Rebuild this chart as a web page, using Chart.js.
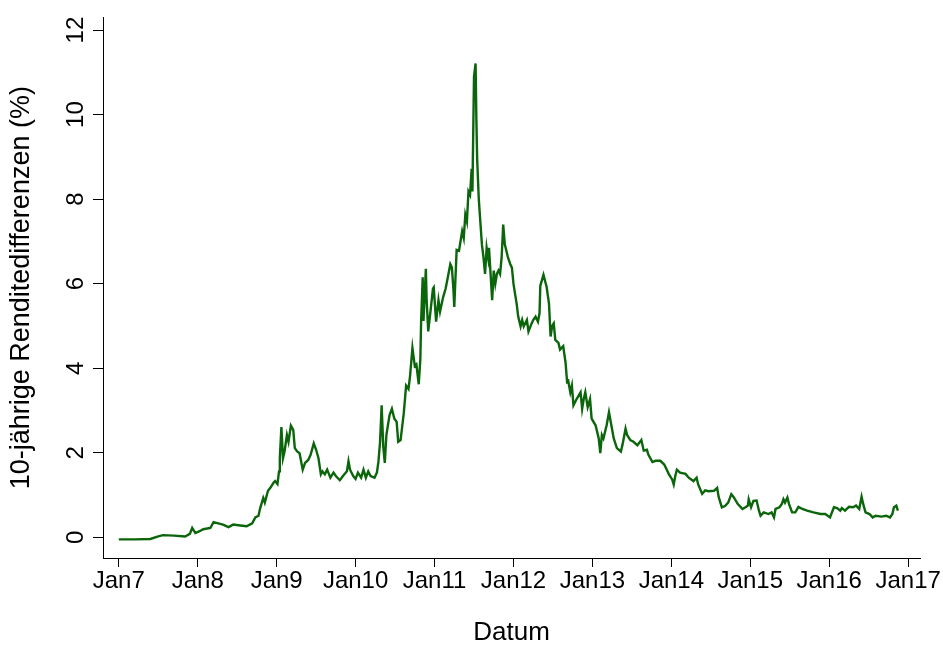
<!DOCTYPE html>
<html><head><meta charset="utf-8">
<script src="https://cdn.jsdelivr.net/npm/chart.js@4.4.0/dist/chart.umd.min.js"></script>
<style>html,body{margin:0;padding:0;background:#fff;} #wrap{width:943px;height:646px;}</style>
</head><body><div id="wrap"><canvas id="c" width="943" height="646"></canvas></div>
<script>
// Decimal year of each observation
const dates = [
2007.00,2007.20,2007.40,2007.50,2007.56,2007.70,2007.84,2007.90,2007.93,2007.97,
2008.03,2008.07,2008.16,2008.20,2008.26,2008.32,2008.39,2008.45,2008.54,2008.62,
2008.69,2008.73,2008.77,2008.79,2008.83,2008.85,2008.89,2008.92,2008.96,2008.98,
2009.01,2009.03,2009.04,2009.06,2009.08,2009.10,2009.13,2009.15,2009.18,2009.21,
2009.23,2009.26,2009.29,2009.33,2009.36,2009.40,2009.43,2009.47,2009.50,2009.53,
2009.56,2009.58,2009.61,2009.64,2009.68,2009.72,2009.75,2009.80,2009.84,2009.89,
2009.91,2009.93,2009.97,2010.00,2010.03,2010.07,2010.10,2010.13,2010.16,2010.19,
2010.24,2010.27,2010.29,2010.31,2010.33,2010.35,2010.37,2010.39,2010.43,2010.46,
2010.49,2010.52,2010.54,2010.57,2010.61,2010.64,2010.67,2010.69,2010.72,2010.75,
2010.77,2010.80,2010.82,2010.83,2010.85,2010.86,2010.89,2010.90,2010.92,2010.95,
2010.98,2010.99,2011.02,2011.05,2011.07,2011.11,2011.14,2011.16,2011.20,2011.22,
2011.24,2011.25,2011.28,2011.31,2011.35,2011.37,2011.39,2011.41,2011.43,2011.45,
2011.47,2011.48,2011.50,2011.52,2011.53,2011.54,2011.56,2011.58,2011.60,2011.62,
2011.64,2011.66,2011.68,2011.69,2011.73,2011.75,2011.77,2011.79,2011.81,2011.83,
2011.85,2011.87,2011.89,2011.91,2011.93,2011.96,2011.98,2012.00,2012.02,2012.04,
2012.06,2012.09,2012.11,2012.13,2012.17,2012.19,2012.23,2012.25,2012.28,2012.31,
2012.33,2012.34,2012.38,2012.42,2012.45,2012.47,2012.49,2012.51,2012.53,2012.57,
2012.59,2012.63,2012.66,2012.68,2012.69,2012.72,2012.74,2012.76,2012.80,2012.85,
2012.87,2012.89,2012.91,2012.94,2012.97,2012.99,2013.04,2013.08,2013.10,2013.12,
2013.14,2013.18,2013.21,2013.24,2013.27,2013.31,2013.36,2013.38,2013.42,2013.44,
2013.48,2013.52,2013.57,2013.62,2013.65,2013.69,2013.71,2013.76,2013.80,2013.86,
2013.91,2013.97,2014.01,2014.03,2014.05,2014.07,2014.11,2014.18,2014.22,2014.28,
2014.32,2014.34,2014.39,2014.43,2014.47,2014.54,2014.58,2014.60,2014.64,2014.68,
2014.72,2014.76,2014.79,2014.84,2014.90,2014.94,2014.97,2014.98,2015.01,2015.04,
2015.08,2015.11,2015.13,2015.17,2015.23,2015.27,2015.30,2015.32,2015.37,2015.40,
2015.42,2015.44,2015.47,2015.49,2015.53,2015.57,2015.61,2015.66,2015.72,2015.80,
2015.89,2015.95,2016.01,2016.06,2016.10,2016.14,2016.16,2016.20,2016.25,2016.30,
2016.34,2016.38,2016.41,2016.43,2016.46,2016.51,2016.55,2016.59,2016.66,2016.72,
2016.77,2016.80,2016.82,2016.85,2016.87
];
// 10-year yield spread (%)
const spreads = [
-0.05,-0.05,-0.04,0.02,0.05,0.04,0.02,0.08,0.22,0.10,
0.15,0.19,0.22,0.36,0.33,0.30,0.24,0.30,0.28,0.26,
0.33,0.47,0.51,0.68,0.93,0.82,1.10,1.17,1.29,1.33,
1.26,1.56,1.87,2.61,1.87,2.03,2.42,2.26,2.64,2.54,
2.11,2.03,1.99,1.60,1.76,1.83,1.95,2.22,2.07,1.87,
1.49,1.56,1.49,1.60,1.41,1.53,1.45,1.35,1.45,1.56,
1.80,1.60,1.45,1.38,1.53,1.41,1.60,1.41,1.56,1.45,
1.41,1.53,1.80,2.26,3.12,2.15,1.76,2.42,2.89,3.04,
2.81,2.73,2.26,2.30,2.93,3.59,3.51,3.82,4.48,4.05,
4.09,3.62,4.21,5.10,6.15,5.12,6.35,5.61,4.87,5.37,
5.88,5.91,5.10,5.61,5.34,5.69,5.88,6.07,6.46,6.38,
5.84,5.45,6.80,6.78,7.24,7.08,7.63,7.47,8.18,8.10,
8.72,8.18,10.90,11.21,9.89,8.95,8.02,7.47,6.93,6.62,
6.23,6.85,6.60,6.85,5.61,6.31,6.00,6.23,6.31,6.23,
6.62,7.40,6.93,6.78,6.62,6.46,6.38,6.00,5.76,5.53,
5.22,4.99,5.14,4.99,5.14,4.87,5.06,5.14,5.22,5.10,
5.30,5.95,6.21,5.92,5.53,4.75,5.00,5.06,4.67,4.60,
4.44,4.52,4.13,3.66,3.74,3.43,3.59,3.12,3.27,3.43,
3.04,3.27,3.43,3.08,3.27,2.81,2.65,2.34,1.99,2.42,
2.34,2.65,2.96,2.65,2.34,2.11,2.03,2.18,2.57,2.42,
2.30,2.26,2.18,2.30,2.05,2.07,1.95,1.78,1.81,1.81,
1.72,1.49,1.37,1.25,1.45,1.60,1.53,1.50,1.41,1.33,
1.41,1.25,1.03,1.11,1.09,1.10,1.17,0.95,0.71,0.74,
0.82,1.02,0.95,0.79,0.67,0.71,0.75,0.90,0.71,0.86,
0.87,0.63,0.51,0.59,0.55,0.59,0.47,0.67,0.71,0.79,
0.90,0.82,0.94,0.79,0.59,0.59,0.72,0.67,0.63,0.59,
0.55,0.55,0.47,0.71,0.69,0.63,0.69,0.63,0.72,0.71,
0.75,0.67,0.96,0.79,0.59,0.55,0.47,0.51,0.49,0.51,
0.47,0.55,0.71,0.75,0.63
];
const xTickValues = [2007,2008,2009,2010,2011,2012,2013,2014,2015,2016,2017];
const xTickLabels = ['Jan7','Jan8','Jan9','Jan10','Jan11','Jan12','Jan13','Jan14','Jan15','Jan16','Jan17'];
const yTickValues = [0,2,4,6,8,10,12];
const xTitle = 'Datum';
const yTitle = '10-jährige Renditedifferenzen (%)';

const FONT = "'Liberation Sans', Arial, Helvetica, sans-serif";
const points = dates.map((d, i) => ({x: d, y: spreads[i]}));

new Chart(document.getElementById('c'), {
  type: 'line',
  data: { datasets: [{ data: points, borderColor: '#0b650b', borderWidth: 2.4, pointRadius: 0, tension: 0, fill: false }] },
  options: {
    responsive: false, animation: false, events: [],
    plugins: { legend: { display: false }, tooltip: { enabled: false } },
    layout: { padding: { left: 0, top: 10, right: 23, bottom: 0 } },
    scales: {
      x: {
        type: 'linear', min: 2006.8, max: 2017.15,
        afterBuildTicks: s => { s.ticks = xTickValues.map(v => ({ value: v })); },
        afterFit: s => { s.height = 88; },
        ticks: { callback: v => xTickLabels[xTickValues.indexOf(v)], maxRotation: 0, minRotation: 0, autoSkip: false,
                 color: '#000', padding: 0, font: { family: FONT, size: 24 } },
        grid: { display: true, drawOnChartArea: false, drawTicks: true, tickLength: 9, color: '#000', lineWidth: 1 },
        border: { display: true, color: '#000', width: 1 },
        title: { display: true, text: xTitle, color: '#000', padding: { top: 0, bottom: 0 }, font: { family: FONT, size: 26, lineHeight: 1 } }
      },
      y: {
        type: 'linear', min: -0.49, max: 12.3,
        afterBuildTicks: s => { s.ticks = yTickValues.map(v => ({ value: v })); },
        afterFit: s => { s.width = 103; },
        ticks: { callback: v => String(v), minRotation: 90, maxRotation: 90, crossAlign: 'center', autoSkip: false,
                 color: '#000', padding: 3, font: { family: FONT, size: 24 } },
        grid: { display: true, drawOnChartArea: false, drawTicks: true, tickLength: 10, color: '#000', lineWidth: 1 },
        border: { display: true, color: '#000', width: 1 },
        title: { display: true, text: yTitle, color: '#000', padding: { top: 8, bottom: 0 }, font: { family: FONT, size: 27, lineHeight: 1 } }
      }
    }
  }
});
</script>
</body></html>
